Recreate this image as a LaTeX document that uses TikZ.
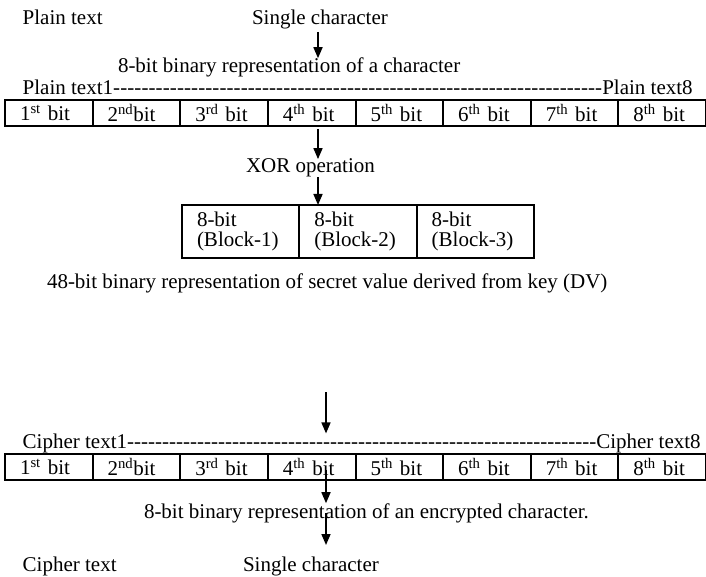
\documentclass[tikz,border=0pt]{standalone}
\usepackage{fontspec}
\setmainfont{Liberation Serif}
\usetikzlibrary{arrows.meta}
\begin{document}
\begin{tikzpicture}[x=1pt,y=-1pt,
  every node/.style={font=\fontsize{21}{20}\selectfont, inner sep=0pt, outer sep=0pt},
  lbl/.style={anchor=base west},
  cell/.style={draw, line width=2pt, minimum width=87.625pt, minimum height=26pt,
    text width=57.625pt, inner xsep=15pt, align=left, anchor=north west},
  blk/.style={draw, line width=2pt, minimum width=117.33pt, minimum height=53pt,
    text width=87.33pt, inner xsep=15pt, align=left, anchor=north west},
  arr/.style={line width=1.6pt, -{Triangle[width=9pt,length=11pt]}}]
\useasboundingbox (0,0) rectangle (706,577);

% top labels
\node[lbl] (pt) at (22.7,25) {Plain text};
\node[lbl] (sc) at (252,25) {Single character};
\node[lbl] (rep1) at (118,73) {8-bit binary representation of a character};
\node[lbl] (pl) at (22.7,95) {\hbox to 670pt{Plain text1\xleaders\hbox{-}\hfill Plain text8}};

% first bit row
\node[cell] (p1) at (5,100) {1\textsuperscript{st} bit};
\node[cell] (p2) at (92.625,100) {2\textsuperscript{nd}bit};
\node[cell] (p3) at (180.25,100) {3\textsuperscript{rd} bit};
\node[cell] (p4) at (267.875,100) {4\textsuperscript{th} bit};
\node[cell] (p5) at (355.5,100) {5\textsuperscript{th} bit};
\node[cell] (p6) at (443.125,100) {6\textsuperscript{th} bit};
\node[cell] (p7) at (530.75,100) {7\textsuperscript{th} bit};
\node[cell] (p8) at (618.375,100) {8\textsuperscript{th} bit};

\node[lbl] (xor) at (246,173) {XOR operation};

% blocks
\node[blk] (b1) at (182,205) {8-bit\\(Block-1)};
\node[blk] (b2) at (299.33,205) {8-bit\\(Block-2)};
\node[blk] (b3) at (416.67,205) {8-bit\\(Block-3)};

\node[lbl] (dv) at (47,288) {48-bit binary representation of secret value derived from key (DV)};

% cipher part
\node[lbl] (cl) at (22.7,448) {\hbox to 678pt{Cipher text1\xleaders\hbox{-}\hfill Cipher text8}};

\node[cell] (c1) at (5,454) {1\textsuperscript{st} bit};
\node[cell] (c2) at (92.625,454) {2\textsuperscript{nd}bit};
\node[cell] (c3) at (180.25,454) {3\textsuperscript{rd} bit};
\node[cell] (c4) at (267.875,454) {4\textsuperscript{th} bit};
\node[cell] (c5) at (355.5,454) {5\textsuperscript{th} bit};
\node[cell] (c6) at (443.125,454) {6\textsuperscript{th} bit};
\node[cell] (c7) at (530.75,454) {7\textsuperscript{th} bit};
\node[cell] (c8) at (618.375,454) {8\textsuperscript{th} bit};

\node[lbl] (rep2) at (144,518) {8-bit binary representation of an encrypted character.};
\node[lbl] (ct) at (22.7,571) {Cipher text};
\node[lbl] (sc2) at (243,571) {Single character};

% arrow coordinates
\coordinate (a1) at (318,32);
\coordinate (a4) at (326,392);
\coordinate (a5) at (326,470);
\coordinate (a6) at (326,513);
\coordinate (a6e) at (326,545);

% arrows
\draw[arr] (a1) -- (a1 |- rep1.north);
\draw[arr] (a1 |- p4.south) ++(0,3) -- (a1 |- xor.north);
\draw[arr] (a1 |- xor.south) -- (a1 |- b2.north);
\draw[arr] (a4) -- (a4 |- cl.north);
\draw[arr] (a5) -- (a5 |- rep2.north);
\draw[arr] (a6) -- (a6e);
\end{tikzpicture}
\end{document}
